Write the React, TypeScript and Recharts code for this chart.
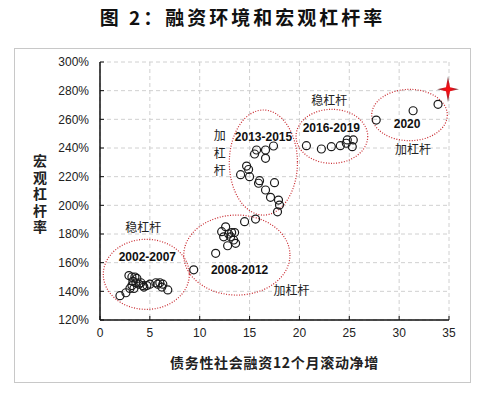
import React from "react";
import {
  ScatterChart,
  Scatter,
  XAxis,
  YAxis,
  CartesianGrid,
  ReferenceArea,
} from "recharts";

// 债务性社融12个月滚动净增 (x) vs 宏观杠杆率 (y, %)
const points0207 = [
  { x: 2.0, y: 137 }, { x: 2.6, y: 139 }, { x: 3.0, y: 142 }, { x: 3.2, y: 144 },
  { x: 2.9, y: 151 }, { x: 3.2, y: 150 }, { x: 3.5, y: 150 }, { x: 3.7, y: 149 },
  { x: 3.3, y: 147 }, { x: 3.6, y: 146 }, { x: 3.9, y: 145 }, { x: 3.4, y: 142 },
  { x: 4.1, y: 146 }, { x: 4.3, y: 144 }, { x: 4.4, y: 143 }, { x: 4.7, y: 144 },
  { x: 5.0, y: 145 }, { x: 5.6, y: 146 }, { x: 5.8, y: 145 }, { x: 6.0, y: 146 },
  { x: 6.3, y: 145 }, { x: 6.2, y: 143 }, { x: 6.8, y: 141 },
];
const points0812 = [
  { x: 9.4, y: 155 }, { x: 11.6, y: 166.5 }, { x: 12.6, y: 185 }, { x: 12.2, y: 181.6 },
  { x: 12.4, y: 178 }, { x: 12.9, y: 180 }, { x: 13.2, y: 181 }, { x: 13.5, y: 181 },
  { x: 13.1, y: 178 }, { x: 13.4, y: 175.8 }, { x: 12.8, y: 171.8 }, { x: 13.6, y: 173.5 },
  { x: 14.5, y: 188.6 }, { x: 15.6, y: 190.4 },
];
const points1315 = [
  { x: 15.7, y: 238.6 }, { x: 15.5, y: 235.8 }, { x: 16.6, y: 238.6 }, { x: 17.4, y: 241.4 },
  { x: 16.6, y: 232.8 }, { x: 14.7, y: 227.4 }, { x: 14.9, y: 225 }, { x: 14.1, y: 221.4 },
  { x: 15.0, y: 220 }, { x: 16.0, y: 217.2 }, { x: 15.9, y: 215.4 }, { x: 17.5, y: 215.8 },
  { x: 16.6, y: 210.7 }, { x: 17.1, y: 205.6 }, { x: 17.9, y: 203.7 }, { x: 18.0, y: 200.2 },
  { x: 17.8, y: 195.5 },
];
const points1619 = [
  { x: 20.7, y: 241.6 }, { x: 22.2, y: 239.3 }, { x: 23.2, y: 240.9 }, { x: 24.1, y: 241.6 },
  { x: 24.7, y: 243.3 }, { x: 24.8, y: 245.6 }, { x: 25.4, y: 245.6 }, { x: 25.3, y: 240.9 },
];
const points2020 = [
  { x: 27.7, y: 259.5 }, { x: 31.4, y: 266 }, { x: 33.9, y: 270.5 },
];
const latestPoint = [{ x: 34.9, y: 281 }];

// period circles (data bounds)
const periodAreas = [
  { x1: 0.33, x2: 8.96, y1: 127.4, y2: 176.3 },
  { x1: 8.4, x2: 19.05, y1: 137.4, y2: 193.2 },
  { x1: 12.97, x2: 19.8, y1: 193.2, y2: 266.5 },
  { x1: 19.66, x2: 26.85, y1: 229.3, y2: 267 },
  { x1: 27.25, x2: 34.83, y1: 245.1, y2: 280.9 },
];
const periodLabels = [
  { x: 4.75, y: 163.7, text: "2002-2007" },
  { x: 14.0, y: 155, text: "2008-2012" },
  { x: 16.4, y: 247.5, text: "2013-2015" },
  { x: 23.2, y: 253.7, text: "2016-2019" },
  { x: 30.8, y: 256.7, text: "2020" },
];
const notes = [
  { x: 4.35, y: 185, text: "稳杠杆" },
  { x: 23.0, y: 274, text: "稳杠杆" },
  { x: 31.4, y: 239.8, text: "加杠杆" },
  { x: 19.2, y: 141, text: "加杠杆" },
];
const verticalNotes = [{ x: 12.0, y: 234.4, text: "加杠杆" }];

const xTicks = [0, 5, 10, 15, 20, 25, 30, 35];
const yTicks = [120, 140, 160, 180, 200, 220, 240, 260, 280, 300];

const CJK = "'Noto Sans CJK SC', sans-serif";
const LATIN = "'Liberation Sans', Arial, sans-serif";

const OpenCircle = (p: any) => (
  <circle cx={p.cx} cy={p.cy} r={4} fill="none" stroke="#1a1a1a" strokeWidth={1.2} />
);

const Star = (p: any) => {
  const { cx, cy } = p;
  const d = `M${cx},${cy - 13} L${cx + 2},${cy - 2} L${cx + 11},${cy} L${cx + 2},${cy + 2} L${cx},${cy + 13} L${cx - 2},${cy + 2} L${cx - 11},${cy} L${cx - 2},${cy - 2} Z`;
  return <path d={d} fill="url(#starGrad)" />;
};

const PeriodLabel = (p: any) => (
  <text x={p.cx} y={p.cy} textAnchor="middle" dominantBaseline="central"
    fontFamily={LATIN} fontWeight="bold" fontSize={12} fill="#111">
    {p.payload.text}
  </text>
);

const Note = (p: any) => (
  <text x={p.cx} y={p.cy} textAnchor="middle" dominantBaseline="central"
    fontFamily={CJK} fontSize={12} fill="#222">
    {p.payload.text}
  </text>
);

// vertical (upright stacked) note, one text element
const VerticalNote = (p: any) => (
  <text x={p.cx} y={p.cy} textAnchor="middle" dominantBaseline="central"
    fontFamily={CJK} fontSize={12} fill="#222"
    style={{ writingMode: "vertical-rl", letterSpacing: 5.5 } as any}>
    {p.payload.text}
  </text>
);

const EllipseShape = (p: any) => (
  <ellipse
    cx={p.x + p.width / 2}
    cy={p.y + p.height / 2}
    rx={Math.abs(p.width) / 2}
    ry={Math.abs(p.height) / 2}
    fill="none"
    stroke="#c8282e"
    strokeWidth={1.2}
    strokeDasharray="1 1.6"
  />
);

export default function App() {
  return (
    <div style={{ position: "absolute", left: 0, top: 0, width: 485, height: 395, background: "#fff" }}>
      <div
        style={{
          position: "absolute", left: 0, top: 5, width: 485, textAlign: "center",
          fontFamily: CJK, fontWeight: "bold", fontSize: 19, letterSpacing: 3, lineHeight: "24px", color: "#111",
        }}
      >
        图 2：融资环境和宏观杠杆率
      </div>
      <div
        style={{
          position: "absolute", left: 14, top: 48, width: 455, height: 333,
          border: "1px solid #c8c8c8",
        }}
      />
      <div
        style={{
          position: "absolute", left: 30, top: 154, width: 20, height: 84,
          writingMode: "vertical-rl", fontFamily: CJK, fontWeight: "bold",
          fontSize: 14, letterSpacing: 2.5, lineHeight: "20px", color: "#222",
        }}
      >
        宏观杠杆率
      </div>
      <div
        style={{
          position: "absolute", left: 100, top: 352, width: 349, textAlign: "center",
          fontFamily: CJK, fontWeight: "bold", fontSize: 14, letterSpacing: 0.7, lineHeight: "20px", color: "#222",
        }}
      >
        债务性社会融资12个月滚动净增
      </div>
      <div style={{ position: "absolute", left: 0, top: 0 }}>
        <ScatterChart width={485} height={395} margin={{ top: 62, right: 36, bottom: 45, left: 55 }}>
          <defs>
            <radialGradient id="starGrad" cx="50%" cy="50%" r="50%">
              <stop offset="0%" stopColor="#ff1010" />
              <stop offset="45%" stopColor="#d8141e" />
              <stop offset="100%" stopColor="#5a5a5a" />
            </radialGradient>
          </defs>
          <CartesianGrid stroke="#d0d0d0" strokeDasharray="4 3" />
          <XAxis
            type="number"
            dataKey="x"
            domain={[0, 35]}
            ticks={xTicks}
            interval={0}
            height={30}
            tickSize={-4}
            tickMargin={12}
            axisLine={{ stroke: "#111", strokeWidth: 1.5 }}
            tickLine={{ stroke: "#111" }}
            tick={{ fontFamily: LATIN, fontSize: 12, fill: "#222" }}
          />
          <YAxis
            type="number"
            dataKey="y"
            domain={[120, 300]}
            ticks={yTicks}
            interval={0}
            width={45}
            tickSize={-4}
            tickMargin={15}
            tickFormatter={(v: number) => `${v}%`}
            axisLine={{ stroke: "#111", strokeWidth: 1.5 }}
            tickLine={{ stroke: "#111" }}
            tick={{ fontFamily: LATIN, fontSize: 12, fill: "#222" }}
          />
          {periodAreas.map((a, i) => (
            <ReferenceArea key={i} x1={a.x1} x2={a.x2} y1={a.y1} y2={a.y2} shape={EllipseShape} ifOverflow="visible" />
          ))}
          <Scatter data={points0207} shape={OpenCircle} isAnimationActive={false} />
          <Scatter data={points0812} shape={OpenCircle} isAnimationActive={false} />
          <Scatter data={points1315} shape={OpenCircle} isAnimationActive={false} />
          <Scatter data={points1619} shape={OpenCircle} isAnimationActive={false} />
          <Scatter data={points2020} shape={OpenCircle} isAnimationActive={false} />
          <Scatter data={latestPoint} shape={Star} isAnimationActive={false} />
          <Scatter data={periodLabels} shape={PeriodLabel} isAnimationActive={false} />
          <Scatter data={notes} shape={Note} isAnimationActive={false} />
          <Scatter data={verticalNotes} shape={VerticalNote} isAnimationActive={false} />
        </ScatterChart>
      </div>
    </div>
  );
}
